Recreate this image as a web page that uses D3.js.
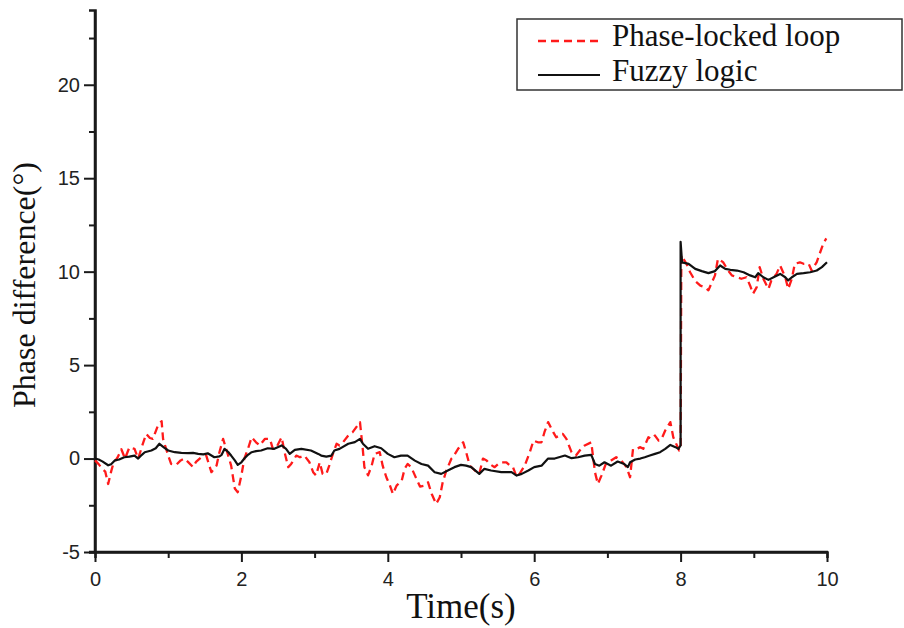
<!DOCTYPE html>
<html>
<head>
<meta charset="utf-8">
<script src="https://cdn.jsdelivr.net/npm/d3@7"></script>
<style>
  html, body { margin: 0; padding: 0; background: #fff; }
  svg { display: block; }
</style>
</head>
<body>
<svg id="chart" width="904" height="628"></svg>
<script>
// ---------------- DATA ----------------
const seriesNames = ["Phase-locked loop", "Fuzzy logic"];
const xTickValues = [0, 2, 4, 6, 8, 10];
const yTickValues = [-5, 0, 5, 10, 15, 20];

const pllTime = [0,0.05,0.1,0.14,0.18,0.22,0.25,0.31,0.36,0.41,0.47,0.54,0.59,0.66,0.7,0.75,0.79,0.86,0.91,0.93,1.0,1.04,1.11,1.17,1.22,1.27,1.34,1.38,1.45,1.52,1.59,1.66,1.7,1.75,1.82,1.86,1.91,1.95,2.0,2.04,2.09,2.14,2.2,2.25,2.32,2.39,2.43,2.48,2.55,2.59,2.64,2.68,2.75,2.8,2.86,2.93,2.98,3.02,3.07,3.11,3.16,3.2,3.25,3.3,3.34,3.39,3.46,3.52,3.57,3.62,3.66,3.68,3.73,3.78,3.82,3.89,3.93,3.98,4.03,4.07,4.12,4.19,4.23,4.27,4.32,4.37,4.44,4.5,4.55,4.6,4.66,4.71,4.75,4.8,4.87,4.89,4.96,5.03,5.07,5.12,5.19,5.25,5.3,5.35,5.39,5.46,5.51,5.55,5.62,5.67,5.71,5.76,5.8,5.87,5.94,5.99,6.05,6.1,6.14,6.19,6.26,6.3,6.39,6.44,6.51,6.57,6.64,6.69,6.78,6.83,6.87,6.92,6.98,7.05,7.12,7.19,7.26,7.31,7.35,7.4,7.45,7.49,7.56,7.6,7.65,7.7,7.74,7.79,7.86,7.9,7.95,7.98,8.0,8.01,8.08,8.13,8.2,8.27,8.33,8.38,8.43,8.47,8.51,8.58,8.65,8.7,8.77,8.83,8.9,8.95,8.99,9.04,9.08,9.13,9.2,9.24,9.31,9.36,9.43,9.47,9.52,9.56,9.63,9.68,9.75,9.79,9.86,9.9,9.95,9.99];
const pllPhase = [-0.1,-0.3,-0.55,-0.7,-1.36,-0.7,-0.27,0.07,0.5,0.0,0.6,0.52,0.0,0.87,1.32,1.1,1.05,1.77,2.0,1.05,0.16,-0.29,-0.34,-0.1,0.0,-0.18,-0.46,-0.18,0.07,0.16,-0.73,-0.38,0.34,1.05,0.16,-0.38,-1.6,-1.8,-0.9,0.0,0.52,1.14,0.87,0.7,1.05,1.05,0.52,0.61,1.14,0.34,-0.46,-0.29,0.16,0.07,0.16,-0.2,-0.73,-0.9,-0.2,-0.82,-0.82,-0.38,0.25,0.79,0.7,0.88,1.23,1.41,1.68,1.95,0.43,-0.46,-0.9,-0.38,0.25,0.34,-0.38,-1.0,-1.45,-1.9,-1.45,-1.18,-0.55,-0.29,-0.46,-0.9,-1.5,-1.45,-1.27,-1.9,-2.43,-2.07,-1.27,-0.64,0.0,0.07,0.52,0.87,0.34,-0.38,-0.64,-0.82,0.0,-0.1,-0.29,-0.46,-0.29,-0.2,-0.2,-0.38,-0.46,-0.98,-0.82,-0.38,0.34,0.96,0.87,0.87,1.41,1.95,1.41,1.14,1.32,1.05,0.34,0.16,0.52,0.7,0.87,-0.73,-1.36,-0.9,-0.27,-0.1,0.07,-0.1,-0.46,-1.0,0.52,0.52,0.61,0.52,1.14,1.05,1.23,0.96,1.05,1.5,1.95,1.14,0.7,0.43,0.5,10.87,10.42,9.97,9.5,9.25,9.17,9.0,9.45,9.8,10.69,10.51,10.06,9.8,9.7,9.62,9.7,9.25,8.82,9.17,10.24,9.62,9.08,9.53,9.88,10.33,9.7,9.08,9.62,10.42,10.5,10.42,10.42,10.06,10.51,10.96,11.5,11.78];

const fuzzyTime = [0,0.05,0.1,0.18,0.22,0.27,0.33,0.4,0.47,0.54,0.59,0.64,0.68,0.77,0.83,0.88,0.94,1.0,1.09,1.18,1.27,1.34,1.41,1.48,1.54,1.63,1.7,1.73,1.77,1.82,1.86,1.91,1.95,2.0,2.04,2.09,2.14,2.2,2.27,2.36,2.45,2.55,2.61,2.66,2.73,2.82,2.95,3.05,3.09,3.16,3.23,3.27,3.34,3.46,3.55,3.62,3.66,3.73,3.82,3.91,4.0,4.09,4.18,4.27,4.37,4.46,4.55,4.64,4.73,4.82,4.91,5.0,5.07,5.14,5.25,5.32,5.41,5.55,5.69,5.76,5.83,5.92,6.0,6.1,6.19,6.28,6.42,6.51,6.6,6.69,6.78,6.83,6.89,6.96,7.05,7.14,7.23,7.28,7.31,7.38,7.45,7.51,7.58,7.65,7.72,7.79,7.86,7.93,7.97,8.0,8.0,8.02,8.11,8.2,8.29,8.38,8.47,8.54,8.61,8.68,8.77,8.86,8.95,9.02,9.06,9.13,9.2,9.27,9.36,9.43,9.47,9.52,9.59,9.68,9.77,9.86,9.93,10.0];
const fuzzyPhase = [0,-0.05,-0.15,-0.36,-0.3,-0.1,-0.05,0.07,0.1,0.16,0.0,0.2,0.34,0.43,0.55,0.79,0.6,0.43,0.34,0.3,0.29,0.3,0.25,0.22,0.28,0.07,0.12,0.2,0.52,0.35,0.16,-0.1,-0.34,-0.2,0.0,0.2,0.34,0.4,0.43,0.55,0.52,0.7,0.52,0.25,0.46,0.52,0.43,0.25,0.16,0.1,0.16,0.43,0.52,0.79,0.88,1.05,0.79,0.52,0.66,0.55,0.25,0.07,0.16,0.16,-0.11,-0.29,-0.38,-0.73,-0.82,-0.64,-0.46,-0.34,-0.38,-0.46,-0.82,-0.55,-0.64,-0.73,-0.73,-0.91,-0.82,-0.64,-0.46,-0.38,0.0,0.0,0.16,0.02,0.07,0.16,0.2,-0.29,-0.38,-0.2,-0.38,-0.16,-0.29,-0.46,-0.2,-0.05,0.0,0.07,0.16,0.25,0.34,0.52,0.73,0.61,0.52,0.7,11.6,10.5,10.42,10.15,10.03,9.92,10.03,10.33,10.15,10.1,10.06,9.97,9.8,9.7,9.92,9.7,9.56,9.7,9.88,9.7,9.53,9.7,9.88,9.92,9.97,10.06,10.24,10.5];

// ---------------- LAYOUT ----------------
const svg = d3.select("#chart");
const x = d3.scaleLinear().domain([0, 10]).range([95, 827]);
const y = d3.scaleLinear().domain([-5, 24]).range([552, 10]);
const serif = "'Liberation Serif', 'Times New Roman', serif";
const sans = "'Liberation Sans', Arial, sans-serif";
const axisColor = "#1a1a1a";
const plainFmt = d => String(d);

// minor ticks
const xMinor = d3.range(1, 10, 2);
const yMinor = d3.range(-2.5, 24, 5);

// x axis
const gx = svg.append("g").attr("transform", `translate(0,${y(-5)})`);
gx.call(d3.axisBottom(x).tickValues(xTickValues).tickSize(10).tickSizeOuter(0).tickFormat(plainFmt));
gx.append("g").call(d3.axisBottom(x).tickValues(xMinor).tickSize(6).tickFormat(""));
// y axis
const gy = svg.append("g").attr("transform", `translate(${x(0)},0)`);
gy.call(d3.axisLeft(y).tickValues(yTickValues).tickSize(11).tickSizeOuter(0).tickFormat(plainFmt));
gy.append("g").call(d3.axisLeft(y).tickValues(yMinor).tickSize(6).tickFormat(""));

svg.selectAll(".domain").attr("stroke", axisColor).attr("stroke-width", 2.5);
svg.selectAll(".tick line").attr("stroke", axisColor).attr("stroke-width", 2);
svg.selectAll(".tick text").attr("fill", "#222").style("font-family", sans).style("font-size", "20px");
gx.selectAll(".tick text").attr("dy", "1.05em");
gy.selectAll(".tick text").attr("dx", "-0.05em");
gy.select(".domain").attr("d", `M0,${y(24)}V${y(-5) + 1}`);
gx.select(".domain").attr("d", `M${x(0) - 6},0H${x(10) + 1}`);

// lines
const pllData = pllTime.map((t, i) => [t, pllPhase[i]]);
const fuzzyData = fuzzyTime.map((t, i) => [t, fuzzyPhase[i]]);
const line = d3.line().x(d => x(d[0])).y(d => y(d[1]));

svg.append("path").datum(pllData).attr("d", line)
  .attr("fill", "none").attr("stroke", "#ff1a1a").attr("stroke-width", 2.3)
  .attr("stroke-dasharray", "8,5").attr("stroke-linejoin", "round");
svg.append("path").datum(fuzzyData).attr("d", line)
  .attr("fill", "none").attr("stroke", "#111").attr("stroke-width", 2.2)
  .attr("stroke-linejoin", "round");

// axis titles
svg.append("text").attr("x", x(5)).attr("y", 618).attr("text-anchor", "middle")
  .style("font-family", serif).style("font-size", "35px").attr("fill", "#111").text("Time(s)");
svg.append("text").attr("transform", `translate(35,285) rotate(-90)`).attr("text-anchor", "middle")
  .style("font-family", serif).style("font-size", "32px").attr("fill", "#111").text("Phase difference(°)");

// legend
const lg = svg.append("g");
lg.append("rect").attr("x", 517).attr("y", 19).attr("width", 385).attr("height", 71)
  .attr("fill", "#fff").attr("stroke", "#333").attr("stroke-width", 1.5);
const legendStyles = [
  { stroke: "#ff1a1a", dash: "8,5", w: 2.3, ly: 41, ty: 46 },
  { stroke: "#111", dash: null, w: 2.2, ly: 75, ty: 81 }
];
seriesNames.forEach((name, i) => {
  const s = legendStyles[i];
  lg.append("line").attr("x1", 538).attr("x2", 600).attr("y1", s.ly).attr("y2", s.ly)
    .attr("stroke", s.stroke).attr("stroke-width", s.w)
    .attr("stroke-dasharray", s.dash);
  lg.append("text").attr("x", 612).attr("y", s.ty)
    .style("font-family", serif).style("font-size", "31px").attr("fill", "#111").text(name);
});
</script>
</body>
</html>
